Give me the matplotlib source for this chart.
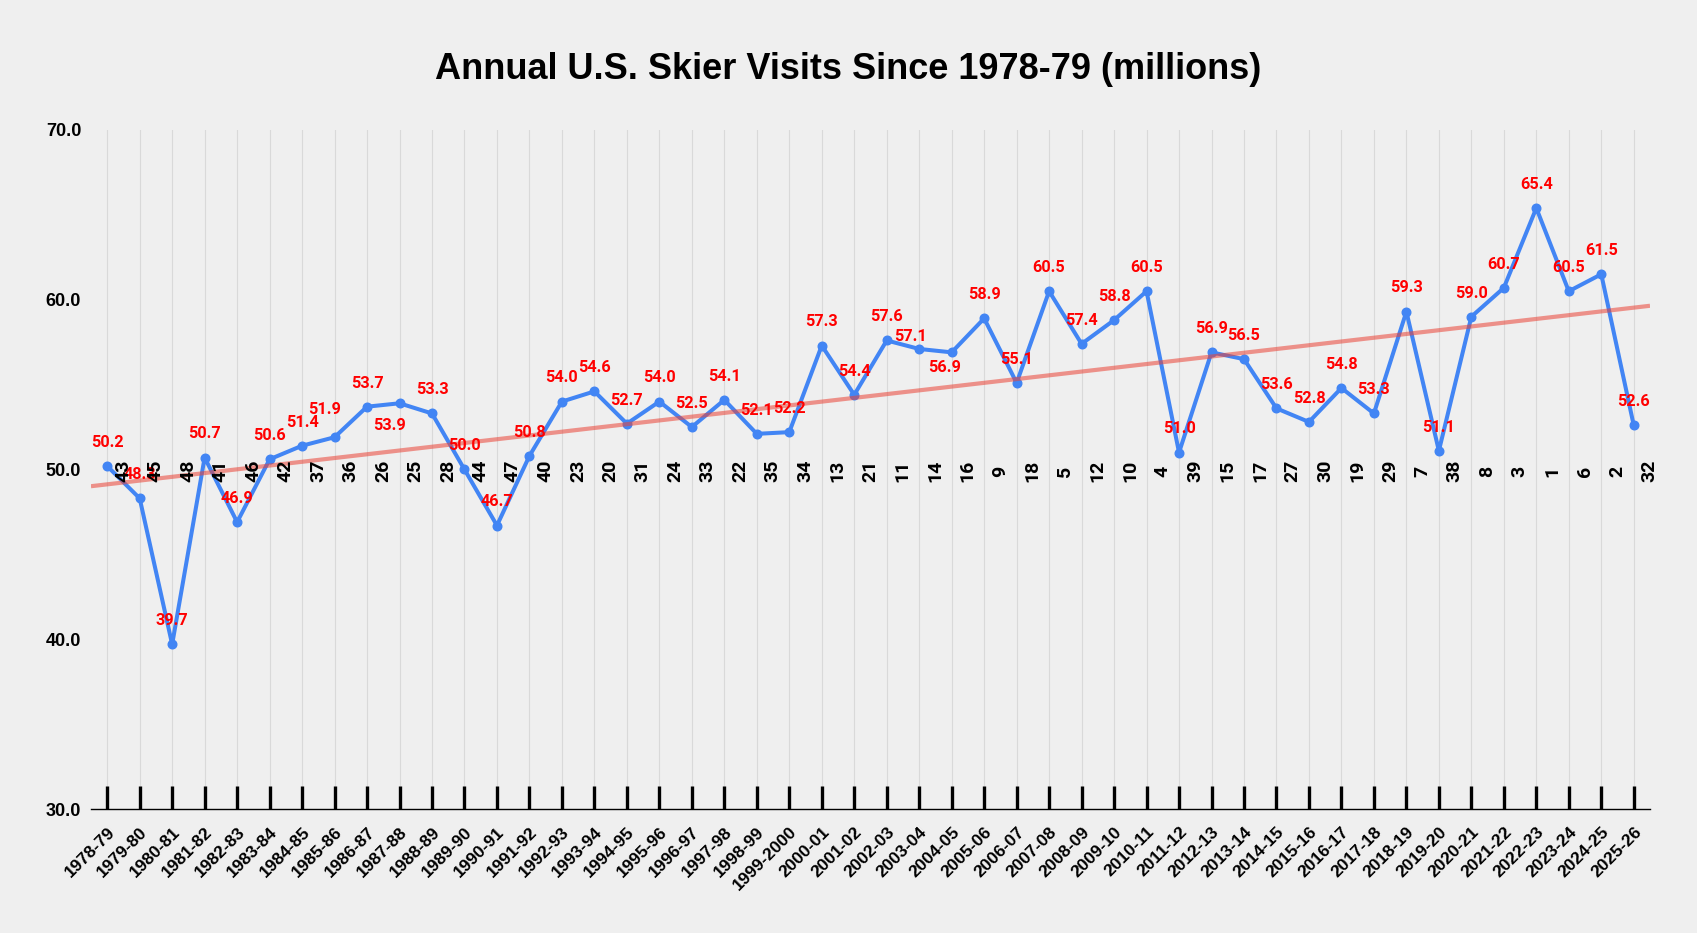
import numpy as np
import matplotlib.pyplot as plt

seasons = ["1978-79", "1979-80", "1980-81", "1981-82", "1982-83", "1983-84", "1984-85",
           "1985-86", "1986-87", "1987-88", "1988-89", "1989-90", "1990-91", "1991-92",
           "1992-93", "1993-94", "1994-95", "1995-96", "1996-97", "1997-98", "1998-99",
           "1999-2000", "2000-01", "2001-02", "2002-03", "2003-04", "2004-05", "2005-06",
           "2006-07", "2007-08", "2008-09", "2009-10", "2010-11", "2011-12", "2012-13",
           "2013-14", "2014-15", "2015-16", "2016-17", "2017-18", "2018-19", "2019-20",
           "2020-21", "2021-22", "2022-23", "2023-24", "2024-25", "2025-26"]
visits = [50.2, 48.3, 39.7, 50.7, 46.9, 50.6, 51.4, 51.9, 53.7, 53.9, 53.3, 50.0,
          46.7, 50.8, 54.0, 54.6, 52.7, 54.0, 52.5, 54.1, 52.1, 52.2, 57.3, 54.4,
          57.6, 57.1, 56.9, 58.9, 55.1, 60.5, 57.4, 58.8, 60.5, 51.0, 56.9, 56.5,
          53.6, 52.8, 54.8, 53.3, 59.3, 51.1, 59.0, 60.7, 65.4, 60.5, 61.5, 52.6]
ranks = [43, 45, 48, 41, 46, 42, 37, 36, 26, 25, 28, 44, 47, 40, 23, 20, 31, 24, 33,
         22, 35, 34, 13, 21, 11, 14, 16, 9, 18, 5, 12, 10, 4, 39, 15, 17, 27, 30, 19,
         29, 7, 38, 8, 3, 1, 6, 2, 32]

# label nudges (points) where the value label is not simply above the dot
label_offsets = {7: (-7, 20), 9: (-7, -16), 25: (-6.5, 9), 26: (-5, -11)}

bg = "#efefef"
fig = plt.figure(figsize=(16.97, 9.33), dpi=100, facecolor=bg)
ax = fig.add_axes([0.0536, 0.1329, 0.9187, 0.7278], facecolor=bg)

x = np.arange(len(seasons))
ax.plot(x, visits, "-o", color="#4285f4", lw=2.9, ms=6.2, zorder=3)

# linear trendline across the whole plot
coef = np.polyfit(x, visits, 1)
xs = np.array([-0.5, len(seasons) - 0.5])
ax.plot(xs, np.polyval(coef, xs), color="#ea4335", alpha=0.55, lw=3, zorder=4,
        solid_capstyle="butt")

for i, v in enumerate(visits):
    dx, dy = label_offsets.get(i, (0, 17))
    ax.annotate(f"{v:.1f}", (i, v), xytext=(dx, dy), textcoords="offset points",
                ha="center", va="center", color="red", fontsize=11.7,
                fontweight="bold", family="Roboto", zorder=5)

for i, r in enumerate(ranks):
    ax.annotate(str(r), (i, 49.9), xytext=(11.5, 0), textcoords="offset points",
                ha="center", va="center", rotation=90, color="black", fontsize=14,
                fontweight="bold", family="Roboto", zorder=6)

ax.set_xlim(-0.5, len(seasons) - 0.5)
ax.set_ylim(30, 70)
ax.set_yticks([30, 40, 50, 60, 70])
ax.set_yticklabels([f"{t:.1f}" for t in [30, 40, 50, 60, 70]],
                   fontsize=13, fontweight="bold", family="Liberation Sans")
ax.set_xticks(x)
ax.set_xticklabels(seasons, rotation=45, ha="right", va="top", rotation_mode="anchor",
                   fontsize=12.5, fontweight="bold", family="Liberation Sans")

ax.tick_params(axis="y", length=0, pad=7)
ax.tick_params(axis="x", direction="in", length=16.5, width=2.4, color="black", pad=11)
ax.grid(axis="x", color="#d9d9d9", lw=0.8, zorder=0)

for s in ["top", "right", "left"]:
    ax.spines[s].set_visible(False)
ax.spines["bottom"].set_linewidth(1.0)
ax.spines["bottom"].set_color("black")

fig.text(0.5, 0.926, "Annual U.S. Skier Visits Since 1978-79 (millions)",
         ha="center", va="center", fontsize=26, fontweight="bold",
         family="Liberation Sans")

fig.savefig("out.png", dpi=100, facecolor=bg)
